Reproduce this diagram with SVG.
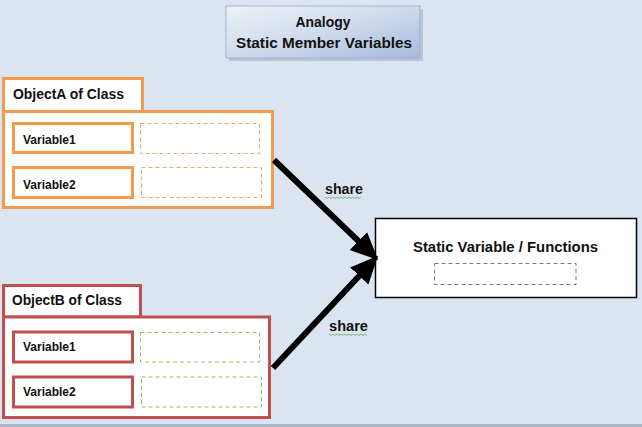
<svg xmlns="http://www.w3.org/2000/svg" width="642" height="427" viewBox="0 0 642 427">
<defs>
<linearGradient id="tg" x1="0" y1="0" x2="1" y2="1">
<stop offset="0" stop-color="#eef2f8"/>
<stop offset="0.45" stop-color="#d3ddee"/>
<stop offset="1" stop-color="#a6badd"/>
</linearGradient>
<marker id="ah" markerUnits="userSpaceOnUse" markerWidth="30" markerHeight="30" viewBox="0 -12 24 24" refX="10" refY="0" orient="auto">
<path d="M0,-10 L22,0 L0,10 z" fill="#000"/>
</marker>
<style>
text{font-family:"Liberation Sans",Arial,sans-serif;font-weight:bold;fill:#111}
.org{fill:#fff;stroke:#f29a4e;stroke-width:3}
.red{fill:#fff;stroke:#c0504d;stroke-width:3}
.dor{fill:#fff;stroke:#f0a868;stroke-width:1;stroke-dasharray:4 3}
.dgr{fill:#fff;stroke:#9bbb59;stroke-width:1;stroke-dasharray:4 3}
.lbl{font-size:12px}
.hdr{font-size:14.5px}
.conn{stroke:#000;stroke-width:6;fill:none;marker-end:url(#ah)}
.sq{fill:none;stroke:#6aa84f;stroke-width:0.8}
</style>
</defs>
<rect x="0" y="0" width="642" height="427" fill="#dbe5f1"/>
<rect x="0" y="424" width="642" height="3" fill="#a9b6c6"/>

<g id="title">
<rect x="229" y="9" width="194" height="52" fill="#b9c5d7"/>
<rect x="226" y="6" width="194" height="52" fill="url(#tg)" stroke="#9fb1d3" stroke-width="1"/>
<text x="323" y="27" text-anchor="middle" font-size="14.5" textLength="55" lengthAdjust="spacingAndGlyphs">Analogy</text>
<text x="324" y="48" text-anchor="middle" font-size="14.5" textLength="176" lengthAdjust="spacingAndGlyphs">Static Member Variables</text>
</g>

<g id="objectA">
<rect class="org" x="3.5" y="78.5" width="139" height="33"/>
<rect class="org" x="3.5" y="111.5" width="269" height="96"/>
<text class="hdr" x="13" y="99" textLength="111" lengthAdjust="spacingAndGlyphs">ObjectA of Class</text>
<rect class="org" x="13.5" y="123.5" width="119" height="29"/>
<text class="lbl" x="23" y="144">Variable1</text>
<rect class="dor" x="140.5" y="123.5" width="119" height="30"/>
<rect class="org" x="13.5" y="167.5" width="119" height="30"/>
<text class="lbl" x="23" y="189">Variable2</text>
<rect class="dor" x="141.5" y="167.5" width="120" height="30"/>
</g>

<g id="objectB">
<rect class="red" x="3.5" y="285.5" width="137" height="31.5"/>
<rect class="red" x="3.5" y="317" width="266" height="100.5"/>
<text class="hdr" x="12" y="305" textLength="110" lengthAdjust="spacingAndGlyphs">ObjectB of Class</text>
<rect class="red" x="13.5" y="332" width="119" height="30"/>
<text class="lbl" x="23" y="351">Variable1</text>
<rect class="dgr" x="140.5" y="332.5" width="119" height="29.5"/>
<rect class="red" x="13.5" y="377" width="119" height="30"/>
<text class="lbl" x="23" y="396">Variable2</text>
<rect class="dgr" x="141.5" y="377" width="120" height="30"/>
</g>

<g id="static">
<rect x="375.5" y="218.5" width="261" height="79" fill="#fff" stroke="#000" stroke-width="1.5"/>
<text x="505.5" y="252" text-anchor="middle" font-size="14.5" textLength="185" lengthAdjust="spacingAndGlyphs">Static Variable / Functions</text>
<rect x="434.5" y="263.5" width="141.5" height="21" fill="#fff" stroke="#6a7a9a" stroke-width="1" stroke-dasharray="4 3"/>
</g>

<g id="connectors">
<line class="conn" x1="274" y1="160" x2="367.4" y2="249.7"/>
<line class="conn" x1="273" y1="368" x2="367.8" y2="266.8"/>
<text x="325" y="194" font-size="14" textLength="38" lengthAdjust="spacingAndGlyphs">share</text>
<path class="sq" d="M325,197 l2,1.5 l2,-1.5 l2,1.5 l2,-1.5 l2,1.5 l2,-1.5 l2,1.5 l2,-1.5 l2,1.5 l2,-1.5 l2,1.5 l2,-1.5 l2,1.5 l2,-1.5 l2,1.5 l2,-1.5 l2,1.5 l2,-1.5"/>
<text x="329" y="331" font-size="14" textLength="39" lengthAdjust="spacingAndGlyphs">share</text>
<path class="sq" d="M329,334 l2,1.5 l2,-1.5 l2,1.5 l2,-1.5 l2,1.5 l2,-1.5 l2,1.5 l2,-1.5 l2,1.5 l2,-1.5 l2,1.5 l2,-1.5 l2,1.5 l2,-1.5 l2,1.5 l2,-1.5 l2,1.5 l2,-1.5 l2,1.5"/>
</g>
</svg>
